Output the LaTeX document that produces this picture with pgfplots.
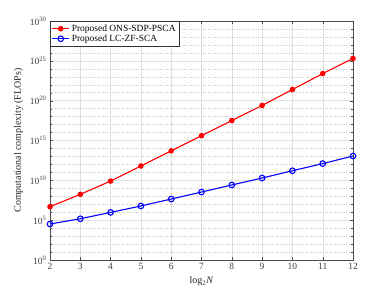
\documentclass[border=0pt]{standalone}
\usepackage{fontspec}
\setmainfont{Liberation Serif}
\usepackage{pgfplots}
\pgfplotsset{compat=1.18}
\begin{document}
\begin{tikzpicture}[x=1bp,y=1bp]
\begin{axis}[
  at={(0,0)}, anchor=south west,
  scale only axis, width=303bp, height=239bp,
  ymode=log, log basis y=10,
  xmin=2, xmax=12, ymin=1, ymax=1e30,
  xtick={2,...,12},
  ytick={1,1e5,1e10,1e15,1e20,1e25,1e30},
  yticklabels={10\textsuperscript{0},10\textsuperscript{5},10\textsuperscript{10},10\textsuperscript{15},10\textsuperscript{20},10\textsuperscript{25},10\textsuperscript{30}},
  minor ytick={1e1,1e2,1e3,1e4,1e6,1e7,1e8,1e9,1e11,1e12,1e13,1e14,1e16,1e17,1e18,1e19,1e21,1e22,1e23,1e24,1e26,1e27,1e28,1e29},
  /pgf/number format/assume math mode=true,
  tick label style={font=\fontsize{9.5}{10.5}\selectfont, text=black!75},
  label style={font=\fontsize{10}{11.5}\selectfont, text=black!85},
  xlabel={log\textsubscript{2}\textit{N}},
  ylabel={Computational complexity (FLOPs)},
  xlabel style={yshift=0bp},
  ylabel style={yshift=0bp},
  axis line style={black!70},
  tick style={black!70},
  tick align=inside,
  major tick length=3bp, minor tick length=1.8bp,
  grid=major, 
  major grid style={black!12, solid},
  minor grid style={black!22, dotted},
  yminorgrids=true,
  legend style={at={(0,1)}, anchor=north west, draw=black!80, font=\fontsize{9.5}{10.5}\selectfont, inner sep=1.5bp, row sep=-2pt, cells={anchor=west}},
  legend cell align=left,
]
\addplot[red, line width=1.1bp, mark=*, mark size=2.2bp] coordinates {
(2,4.9e6) (3,1.74e8) (4,8.1e9) (5,6.3e11) (6,5.0e13) (7,4.0e15) (8,3.2e17) (9,2.5e19) (10,2.5e21) (11,2.5e23) (12,2.0e25)};
\addlegendentry{Proposed ONS-SDP-PSCA}
\addplot[blue, line width=1.1bp, mark=o, mark size=2.8bp, mark options={line width=1.1bp}] coordinates {
(2,3.3e4) (3,1.5e5) (4,9.5e5) (5,6.0e6) (6,4.5e7) (7,3.4e8) (8,2.6e9) (9,1.95e10) (10,1.6e11) (11,1.26e12) (12,1.12e13)};
\addlegendentry{Proposed LC-ZF-SCA}
\end{axis}
\useasboundingbox (-50bp,-33bp) rectangle (340bp,260bp);
\end{tikzpicture}
\end{document}
